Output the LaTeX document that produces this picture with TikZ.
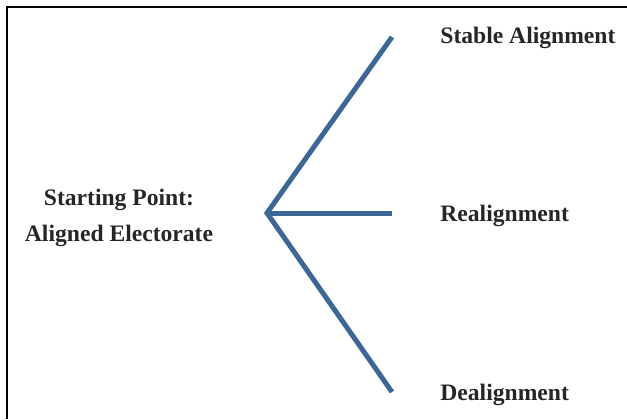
\documentclass[tikz,border=0pt]{standalone}
\usepackage{fontspec}
\setmainfont{Liberation Serif}
\definecolor{branchblue}{RGB}{59,103,153}
\begin{document}
\begin{tikzpicture}[x=0.5pt,y=-0.5pt,
  branch/.style={draw=branchblue,line width=2.5pt},
  frame/.style={draw=black,line width=1pt},
  lbl/.style={inner sep=0pt,font=\fontsize{11.8}{18}\selectfont\bfseries,text=black!85}]
\useasboundingbox (0,0) rectangle (627,419);
\draw[frame] (7,419) -- (7,7) -- (627,7);
\coordinate (root) at (267,213);
\coordinate (e1) at (392,37);
\coordinate (e2) at (392,213);
\coordinate (e3) at (392,392);
\draw[branch] (e1) -- (root) -- (e3);
\draw[branch] (root) -- (e2);
\node[lbl,anchor=north,align=center] (start) at (119,189) {Starting Point:\\Aligned Electorate};
\node[lbl,anchor=base west] (stable) at (440,43) {Stable Alignment};
\node[lbl,anchor=base west] (re) at (440,221) {Realignment};
\node[lbl,anchor=base west] (de) at (440,400) {Dealignment};
\end{tikzpicture}
\end{document}
